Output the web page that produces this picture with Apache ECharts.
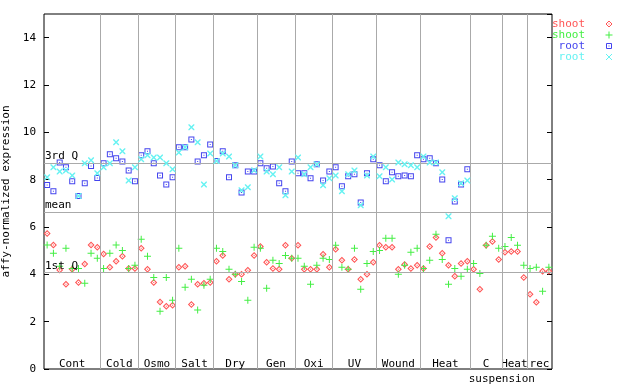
<!DOCTYPE html>
<html><head><meta charset="utf-8">
<script src="https://cdn.jsdelivr.net/npm/echarts@6/dist/echarts.min.js"></script>
<style>html,body{margin:0;padding:0;background:#fff}#c{width:640px;height:384px}</style>
</head><body><div id="c"></div>
<script>
const groupLabels = ['Cont','Cold','Osmo','Salt','Dry','Gen','Oxi','UV','Wound','Heat','C','Heat','rec'];
const groupBounds = [0,9,15,21,27,34,40,46,53,60,68,73,77,81];
const subLabel = 'suspension';
const quartileNames = ['3rd Q','mean','1st Q'];
const quartileValues = [8.70, 6.63, 4.09];
const legendNames = ['shoot','shoot','root','root'];

const shootRed = [5.73,5.24,4.18,3.58,4.22,3.66,4.44,5.24,5.14,
  4.86,4.30,4.55,4.76,4.25,4.25,
  5.10,4.21,3.66,2.83,2.65,2.69,
  4.30,4.34,2.73,3.58,3.62,3.66,
  4.55,4.80,3.79,4.00,4.00,4.17,4.80,
  5.18,4.51,4.25,4.21,5.23,4.68,
  5.23,4.21,4.21,4.21,4.85,4.30,
  5.06,4.59,4.21,4.63,3.79,4.00,4.51,
  5.23,5.14,5.14,4.21,4.42,4.25,4.38,
  4.25,5.18,5.56,4.89,4.38,3.92,4.46,4.55,
  4.21,3.37,5.23,5.39,4.63,
  4.93,4.97,4.97,3.87,
  3.16,2.82,4.13,4.13];
const shootGreen = [5.24,4.89,4.34,5.10,4.25,4.25,3.62,4.89,4.68,
  4.25,4.89,5.24,5.01,4.25,4.38,
  5.48,4.76,3.87,2.44,3.87,2.90,
  5.10,3.45,3.79,2.49,3.54,3.79,
  5.10,4.97,4.21,4.00,3.70,2.90,5.14,
  5.10,3.41,4.59,4.46,4.80,4.68,
  4.68,4.34,3.58,4.38,4.68,4.63,
  5.23,4.30,4.21,5.10,3.37,4.46,4.97,
  5.01,5.52,5.52,4.00,4.38,4.93,5.10,
  4.25,4.59,5.69,4.63,3.58,4.25,3.92,4.21,
  4.46,4.04,5.23,5.61,5.10,
  5.18,5.56,5.23,4.38,
  4.25,4.30,3.28,4.30];
const rootBlue = [7.77,7.51,8.73,8.52,7.93,7.31,7.85,8.58,8.07,
  8.69,9.07,8.90,8.77,8.39,7.93,
  9.03,9.20,8.69,8.18,7.80,8.10,
  9.37,9.37,9.70,8.77,9.03,9.49,
  8.79,9.20,8.10,8.61,7.46,8.35,8.35,
  8.69,8.48,8.56,7.85,7.51,8.77,
  8.27,8.27,8.06,8.65,7.97,8.35,
  8.52,7.72,8.14,8.23,7.04,8.27,8.86,
  8.61,7.93,8.31,8.14,8.18,8.14,9.03,
  8.86,8.90,8.69,8.01,5.44,7.08,7.80,8.44];
const rootCyan = [8.10,8.52,8.35,8.39,8.18,7.31,8.69,8.82,8.27,
  8.52,8.69,9.58,9.20,7.97,8.52,
  8.86,9.03,8.94,8.94,8.69,8.44,
  9.15,9.37,10.21,9.58,7.80,9.11,
  8.79,9.11,8.98,8.61,7.55,7.68,8.40,
  8.98,8.35,8.23,8.52,7.34,8.35,
  8.94,8.23,8.52,8.65,7.76,8.06,
  8.18,7.51,8.23,8.39,6.92,8.18,8.98,
  8.14,8.52,8.01,8.73,8.65,8.61,8.52,
  8.98,8.73,8.73,8.31,6.45,7.21,7.85,7.97];

const FONT = 'DejaVu Sans Mono';
const colors = ['#ff5555','#44ee44','#4444ee','#66f2f2'];
const symPaths = [
  'M3.5,0 L7,3.5 L3.5,7 L0,3.5 Z M3.5,1.5 L1.5,3.5 L3.5,5.5 L5.5,3.5 Z M3,3 L4,3 L4,4 L3,4 Z',
  'M3,0 L4,0 L4,3 L7,3 L7,4 L4,4 L4,7 L3,7 L3,4 L0,4 L0,3 L3,3 Z',
  'M0,0 L6,0 L6,6 L0,6 Z M1,1 L1,5 L5,5 L5,1 Z M2.5,2.5 L3.5,2.5 L3.5,3.5 L2.5,3.5 Z',
  'M0,0 L1,0 L3,2 L5,0 L6,0 L6,1 L4,3 L6,5 L6,6 L5,6 L3,4 L1,6 L0,6 L0,5 L2,3 L0,1 Z'
];
const symSizes = [7,7,6,6];
const seriesData = [shootRed, shootGreen, rootBlue, rootCyan];

const chart = echarts.init(document.getElementById('c'), null, {renderer:'canvas'});
const series = [{
  type:'scatter', data:[], z:1, silent:true,
  markLine:{
    silent:true, symbol:'none', animation:false,
    lineStyle:{color:'#aaaaaa', type:'solid', width:1},
    label:{show:false},
    data: groupBounds.slice(1,-1).map(v=>({xAxis:v}))
      .concat(quartileValues.map((v,i)=>({yAxis:v, label:{show:true, formatter:quartileNames[i], position:'insideStartTop', distance:[1,1], color:'#000', fontFamily:FONT, fontSize:11}})))
  }
}];
seriesData.forEach((arr,si)=>{
  series.push({
    type:'scatter', z:2+si, animation:false,
    symbol:'path://'+symPaths[si], symbolSize:symSizes[si],
    itemStyle:{color:colors[si], opacity:1},
    data: arr.map((v,k)=>[k+0.5, v])
  });
});

chart.setOption({
  animation:false,
  grid:{left:44, right:88, top:14, bottom:15, containLabel:false, outerBoundsMode:'none', show:true, borderColor:'#000', borderWidth:1, backgroundColor:'transparent'},
  xAxis:{type:'value', min:0, max:81, axisLine:{show:false}, axisTick:{show:false}, axisLabel:{show:false}, splitLine:{show:false}},
  yAxis:[{type:'value', min:0, max:15, interval:2, position:'left',
    name:'affy-normalized expression', nameLocation:'middle', nameGap:32, nameRotate:90,
    nameTextStyle:{fontFamily:FONT, fontSize:11, color:'#000'},
    axisLine:{show:false}, axisTick:{show:true, inside:true, length:5, lineStyle:{color:'#000'}},
    axisLabel:{fontFamily:FONT, fontSize:11, color:'#000', margin:8, showMaxLabel:false},
    splitLine:{show:false}},
   {type:'value', min:0, max:15, interval:2, position:'right',
    axisLine:{show:false}, axisTick:{show:true, inside:true, length:5, lineStyle:{color:'#000'}},
    axisLabel:{show:false}, splitLine:{show:false}}],
  series: series
});

const graphics = [];
const yBase = chart.convertToPixel({yAxisIndex:0}, 0);
for (let i=0;i<groupLabels.length;i++){
  const cx = chart.convertToPixel({xAxisIndex:0}, (groupBounds[i]+groupBounds[i+1])/2);
  graphics.push({type:'text', x:cx, y:yBase-5, style:{text:groupLabels[i], font:'11px "'+FONT+'"', fill:'#000', align:'center', verticalAlign:'middle'}});
}
const sx = chart.convertToPixel({xAxisIndex:0}, groupBounds[11]);
graphics.push({type:'text', x:sx, y:yBase+10, style:{text:subLabel, font:'11px "'+FONT+'"', fill:'#000', align:'center', verticalAlign:'middle'}});
const lx = chart.convertToPixel({xAxisIndex:0}, groupBounds[groupBounds.length-1]);
function legendMarker(i, cx, cy){
  const c = colors[i];
  if (i===0) return [
    {type:'polygon', shape:{points:[[cx,cy-3],[cx+3,cy],[cx,cy+3],[cx-3,cy]]}, style:{fill:'none', stroke:c, lineWidth:1}},
    {type:'rect', shape:{x:cx-0.5,y:cy-0.5,width:1,height:1}, style:{fill:c}}];
  if (i===1) return [
    {type:'rect', shape:{x:cx-3.5,y:cy-0.5,width:7,height:1}, style:{fill:c}},
    {type:'rect', shape:{x:cx-0.5,y:cy-3.5,width:1,height:7}, style:{fill:c}}];
  if (i===2) return [
    {type:'rect', shape:{x:cx-2.5,y:cy-2.5,width:5,height:5}, style:{fill:'none', stroke:c, lineWidth:1}},
    {type:'rect', shape:{x:cx-0.5,y:cy-0.5,width:1,height:1}, style:{fill:c}}];
  return [
    {type:'line', shape:{x1:cx-3,y1:cy-3,x2:cx+3,y2:cy+3}, style:{stroke:c, lineWidth:1}},
    {type:'line', shape:{x1:cx+3,y1:cy-3,x2:cx-3,y2:cy+3}, style:{stroke:c, lineWidth:1}}];
}
legendNames.forEach((n,i)=>{
  const ly = 24 + i*11;
  graphics.push({type:'text', x:lx+33, y:ly, style:{text:n, font:'11px "'+FONT+'"', fill:colors[i], align:'right', verticalAlign:'middle'}});
  legendMarker(i, lx+57, ly).forEach(g=>graphics.push(g));
});
chart.setOption({graphic:graphics});
</script></body></html>
